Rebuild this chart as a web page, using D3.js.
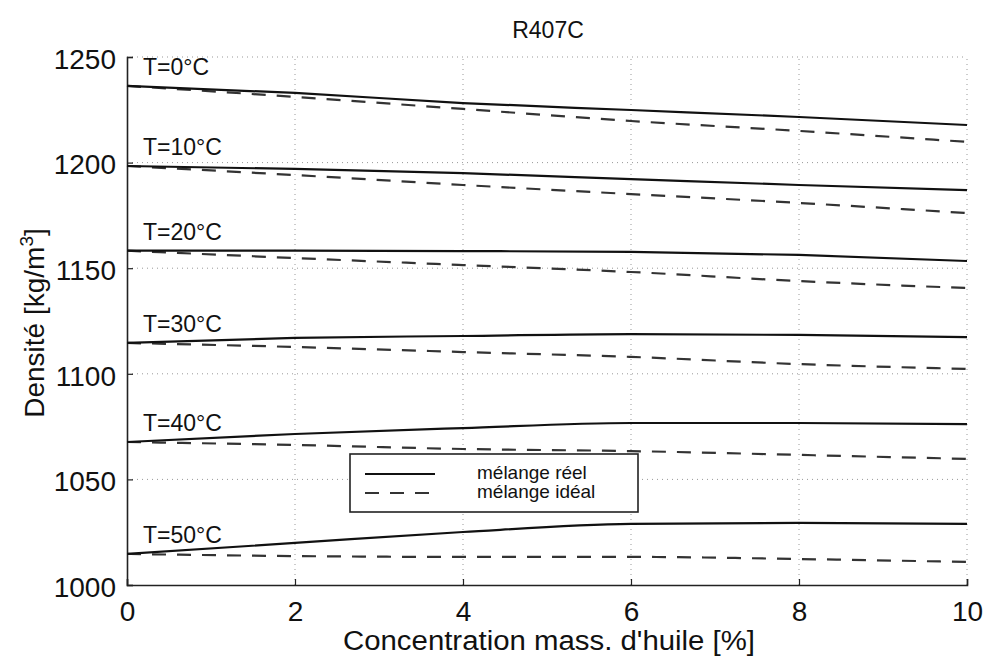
<!DOCTYPE html>
<html><head><meta charset="utf-8">
<script src="https://cdn.jsdelivr.net/npm/d3@7"></script>
<style>body{margin:0;background:#fff}svg{display:block}text{font-family:"Liberation Sans",Arial,sans-serif;fill:#111}</style>
</head><body><svg id="c" width="990" height="658"></svg>
<script>
const conc = [0, 2, 4, 6, 8, 10];
const temps = ["T=0°C","T=10°C","T=20°C","T=30°C","T=40°C","T=50°C"];
const reel = [
  [1236.3,1233.0,1228.2,1224.9,1221.6,1217.8],
  [1198.4,1197.0,1195.0,1192.2,1189.4,1187.0],
  [1158.3,1158.3,1158.1,1157.7,1156.3,1153.4],
  [1114.6,1117.0,1117.9,1118.8,1118.4,1117.4],
  [1067.7,1071.5,1074.3,1076.7,1076.7,1076.2],
  [1014.7,1019.9,1025.1,1028.9,1029.4,1028.9]
];
const ideal = [
  [1236.3,1231.1,1225.4,1219.7,1215.0,1209.8],
  [1198.4,1194.1,1189.4,1185.1,1180.9,1176.1],
  [1158.3,1154.8,1151.5,1148.2,1143.9,1140.6],
  [1114.6,1112.7,1110.3,1108.0,1104.6,1102.3],
  [1067.7,1066.3,1064.4,1063.4,1061.6,1059.7],
  [1014.7,1013.7,1013.3,1013.3,1012.3,1010.9]
];
const xTicks = [0,2,4,6,8,10];
const yTicks = [1000,1050,1100,1150,1200,1250];
const legendLabels = ["mélange réel","mélange idéal"];

const svg = d3.select("#c");
const x = d3.scaleLinear().domain([0,10]).range([127,967]);
const y = d3.scaleLinear().domain([1000,1250]).range([585,57]);

// grid
const grid = svg.append("g").attr("stroke","#999").attr("stroke-width",1).attr("stroke-dasharray","1,4");
grid.selectAll("line.v").data(xTicks.filter(d=>d>0)).join("line")
  .attr("x1",d=>x(d)).attr("x2",d=>x(d)).attr("y1",y(1000)).attr("y2",y(1250));
grid.selectAll("line.h").data(yTicks.filter(d=>d>1000)).join("line")
  .attr("y1",d=>y(d)).attr("y2",d=>y(d)).attr("x1",x(0)).attr("x2",x(10));

// axes
const xAxis = svg.append("g").attr("transform",`translate(0,${y(1000)})`)
  .call(d3.axisBottom(x).tickValues(xTicks).tickSize(-6).tickPadding(14).tickFormat(d3.format("d")));
const yAxis = svg.append("g").attr("transform",`translate(${x(0)},0)`)
  .call(d3.axisLeft(y).tickValues(yTicks).tickSize(-6).tickPadding(11).tickFormat(d3.format("d")));
[xAxis,yAxis].forEach(a=>{
  a.select(".domain").attr("stroke","#222").attr("stroke-width",1.6);
  a.selectAll(".tick line").attr("stroke","#222").attr("stroke-width",1.2);
  a.selectAll(".tick text").attr("font-size",28).attr("fill","#111").attr("font-family","Liberation Sans, Arial, sans-serif");
});
xAxis.selectAll(".tick text").attr("dy","0.8em");
yAxis.selectAll(".tick text").attr("dy","0.4em");

const line = d3.line().x((d,i)=>x(conc[i])).y(d=>y(d)).curve(d3.curveMonotoneX);

svg.append("g").selectAll("path").data(ideal).join("path")
  .attr("d",line).attr("fill","none").attr("stroke","#333").attr("stroke-width",2.2).attr("stroke-dasharray","14,11");
svg.append("g").selectAll("path").data(reel).join("path")
  .attr("d",line).attr("fill","none").attr("stroke","#111").attr("stroke-width",2.2);

// T labels
svg.append("g").selectAll("text").data(temps).join("text")
  .attr("x",x(0.19)).attr("y",(d,i)=>y(reel[i][0])-11)
  .attr("font-size",23).text(d=>d);

// title
svg.append("text").attr("x",548).attr("y",38).attr("text-anchor","middle").attr("font-size",23).text("R407C");
// x label
svg.append("text").attr("x",549).attr("y",650).attr("text-anchor","middle").attr("font-size",27)
  .attr("textLength",412).attr("lengthAdjust","spacingAndGlyphs").text("Concentration mass. d'huile [%]");
// y label
const yl = svg.append("text").attr("transform","translate(44,323) rotate(-90)").attr("text-anchor","middle").attr("font-size",28);
yl.append("tspan").text("Densité [kg/m");
yl.append("tspan").attr("font-size",19).attr("dy",-11).text("3");
yl.append("tspan").attr("dy",11).text("]");

// legend
const lg = svg.append("g");
lg.append("rect").attr("x",350).attr("y",454).attr("width",288).attr("height",58)
  .attr("fill","#fff").attr("stroke","#222").attr("stroke-width",1.6);
const ly = [474,493];
lg.selectAll("line").data(legendLabels).join("line")
  .attr("x1",365).attr("x2",435).attr("y1",(d,i)=>ly[i]).attr("y2",(d,i)=>ly[i])
  .attr("stroke",(d,i)=>i?"#333":"#111").attr("stroke-width",2)
  .attr("stroke-dasharray",(d,i)=>i?"14,11":null);
lg.selectAll("text").data(legendLabels).join("text")
  .attr("x",477).attr("y",(d,i)=>ly[i]+5).attr("font-size",19).text(d=>d);
</script></body></html>
